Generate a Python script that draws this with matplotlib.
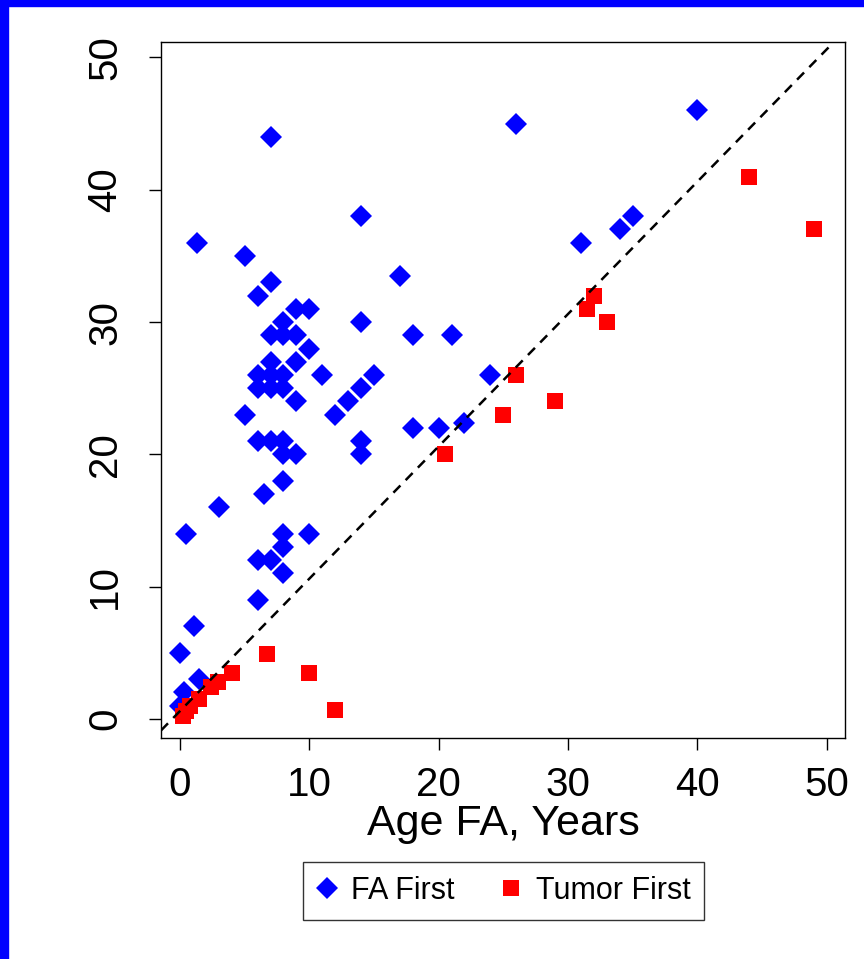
import matplotlib
matplotlib.use("Agg")
import matplotlib.pyplot as plt
from matplotlib.patches import Rectangle

plt.rcParams['font.family'] = ['Liberation Sans', 'DejaVu Sans']

# age at FA diagnosis vs age at tumor, patients where FA came first
fa_age = [0, 0.5, 1.3, 1.1, 1.5, 0.3, 0,
          5, 3, 7, 26, 40, 14, 17, 31, 34, 35, 24, 22, 20, 18, 18, 21,
          14, 14, 14, 15, 14, 13, 12, 11, 10, 10, 10, 9, 9, 9, 9, 9,
          8, 8, 7, 7, 6, 7, 6, 7, 8, 6, 7, 8, 5, 6, 7, 8, 8, 8, 6.5,
          8, 8, 6, 7, 8, 6]
fa_tumor = [5, 14, 36, 7, 3, 2, 1,
            35, 16, 44, 45, 46, 38, 33.5, 36, 37, 38, 26, 22.4, 22, 22, 29, 29,
            30, 21, 20, 26, 25, 24, 23, 26, 14, 31, 28, 27, 24, 20, 31, 29,
            30, 29, 29, 33, 32, 27, 26, 26, 26, 25, 25, 25, 23, 21, 21, 21, 20, 18, 17,
            14, 13, 12, 12, 11, 9]

# patients where the tumor came first
tf_age = [0.2, 0.5, 0.8, 1.5, 2.4, 2.9, 4.0, 6.7, 10, 12,
          20.5, 25, 26, 29, 31.5, 32, 33, 44, 49]
tf_tumor = [0.2, 0.6, 1.0, 1.5, 2.4, 2.8, 3.5, 4.9, 3.5, 0.7,
            20, 23, 26, 24, 31, 32, 30, 41, 37]

ticks = [0, 10, 20, 30, 40, 50]
diag_offset = 0.6

fig = plt.figure(figsize=(8.64, 9.59), dpi=100)
ax = fig.add_axes([161 / 864, 1 - 738 / 959, (845 - 161) / 864, (738 - 42) / 959])

ax.plot(fa_age, fa_tumor, linestyle='none', marker='D', markersize=10.8,
        color='#0000ff', markeredgewidth=0, label='FA First')
ax.plot(tf_age, tf_tumor, linestyle='none', marker='s', markersize=11.2,
        color='#ff0000', markeredgewidth=0, label='Tumor First')
ax.axline((0, diag_offset), slope=1, color='black', linestyle=(0, (4, 3)),
          linewidth=1.8, zorder=3)

ax.set_xlim(-1.47, 51.43)
ax.set_ylim(-1.44, 51.17)
ax.set_xticks(ticks)
ax.set_yticks(ticks)
ax.tick_params(direction='out', length=8.5, width=1, labelsize=29, pad=12)
ax.tick_params(axis='y', pad=18)
for lab in ax.get_yticklabels():
    lab.set_rotation(90)
    lab.set_va('center')
for side in ax.spines.values():
    side.set_linewidth(1)

ax.set_xlabel('Age FA, Years', fontsize=31, labelpad=0)

leg = fig.legend(loc='center', bbox_to_anchor=(503.5 / 864, 1 - 891 / 959),
                 ncol=2, fontsize=22, frameon=True, fancybox=False,
                 edgecolor='black', borderpad=0.45, handletextpad=0.45,
                 columnspacing=1.5, handlelength=0.7)
leg.get_frame().set_linewidth(1)

# blue frame along the left and top edges
fig.patches.append(Rectangle((0, 0), 8 / 864, 1, transform=fig.transFigure,
                             color='#0000ff', zorder=10))
fig.patches.append(Rectangle((0, 1 - 6 / 959), 1, 6 / 959, transform=fig.transFigure,
                             color='#0000ff', zorder=10))

fig.savefig('out.png', dpi=100)
